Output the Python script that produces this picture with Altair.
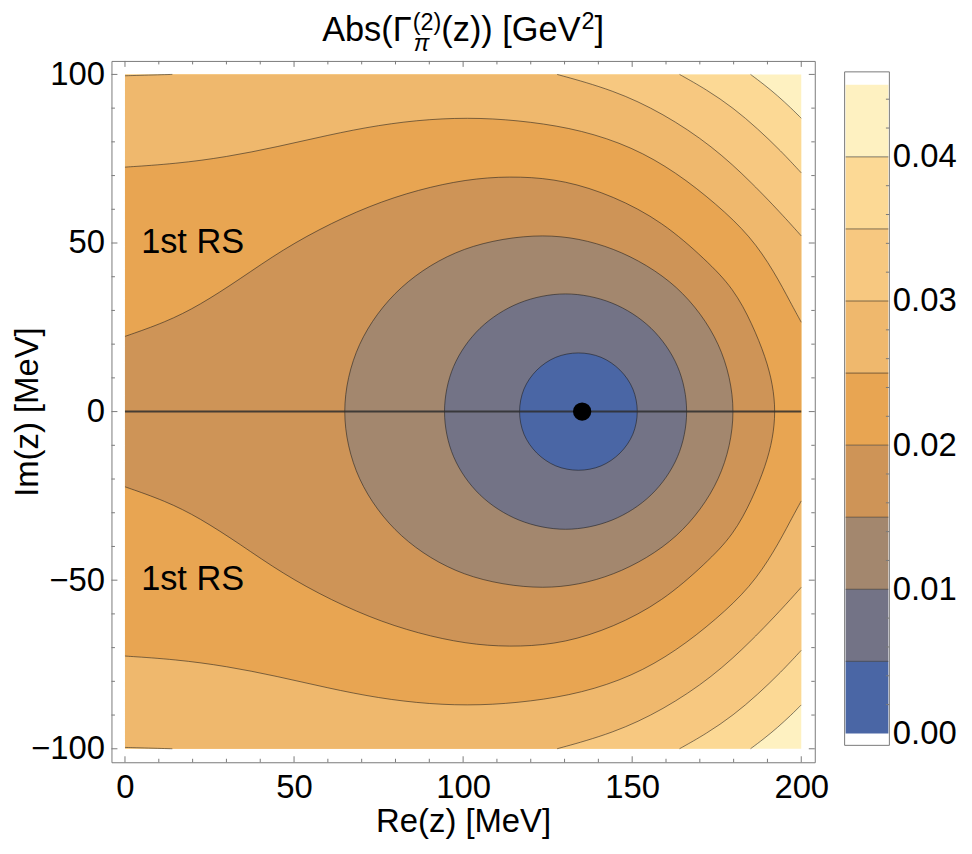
import altair as alt
import pandas as pd

# ---------------- data ----------------
RE_RANGE = [0, 200]      # MeV, extent of the computed region
IM_RANGE = [-100, 100]   # MeV
LEVELS = [0.000, 0.005, 0.010, 0.015, 0.020, 0.025, 0.030, 0.035, 0.040, 0.045]
BAND_COLORS = ["#4A66A5", "#737386", "#A3876E", "#CE9457", "#E8A552",
               "#EFB86D", "#F7C880", "#FCD995", "#FEF1C1"]

# contour curves, upper half (Im >= 0); the picture is mirror symmetric in Im
C005 = [(116.7, 0), (118.0, 6.7), (121.8, 12.3), (127.4, 16.1), (134.1, 17.4),
        (140.8, 16.1), (146.4, 12.3), (150.2, 6.7), (151.5, 0)]
C010 = [(94.5, 0), (97.2, 13.4), (105.0, 24.7), (116.6, 32.2), (130.3, 34.9),
        (144.0, 32.2), (155.6, 24.7), (163.4, 13.4), (166.1, 0)]
C015 = [(65.0, 0), (69.4, 19.9), (81.8, 36.8), (100.4, 48.1), (123.5, 52.1),
        (144.4, 48.1), (163.0, 36.8), (175.4, 19.9), (179.8, 0)]
C020 = [(0, 22.3), (12, 26.5), (22, 31.5), (34, 39.3), (46.5, 48.0), (61, 56.0),
        (76, 62.5), (90.5, 66.8), (104, 69.3), (117, 69.8), (130, 68.6),
        (144.4, 64.0), (159, 56.3), (171.8, 45.0), (180.0, 36.5), (185.5, 26.0),
        (189.5, 16.0), (191.6, 8.0), (192.4, 0)]
C025 = [(0, 72.5), (15, 73.5), (30, 75.5), (45, 78.5), (60, 82.0), (75, 85.0),
        (90, 86.8), (105, 87.2), (120, 86.0), (135, 83.5), (150, 78.5),
        (163, 71.0), (175, 61.5), (185, 52.0), (192, 41.5), (197, 32.0), (200, 26.5)]
C030 = [(127.8, 100), (144.4, 95.4), (159.1, 88.5), (173.8, 78.7), (185.5, 67.8),
        (195.3, 57.4), (200, 52.1)]
C030_CORNER = [(0, 99.6), (14, 100)]
C035 = [(164, 100), (172, 95.5), (180, 90.0), (187, 84.0), (194, 77.3), (200, 70.8)]
C040 = [(185, 100), (189, 97.0), (193, 93.7), (197, 90.0), (200, 87.0)]

POLE_RE = [135.2]
POLE_IM = [0.0]
RS_RE = [20, 20]
RS_IM = [50, -50]
RS_TEXT = ["1st RS", "1st RS"]

X_MAJOR = [0, 50, 100, 150, 200]
X_MINOR = [10, 20, 30, 40, 60, 70, 80, 90, 110, 120, 130, 140, 160, 170, 180, 190]
Y_MAJOR = [-100, -50, 0, 50, 100]
Y_MINOR = [-90, -80, -70, -60, -40, -30, -20, -10, 10, 20, 30, 40, 60, 70, 80, 90]
CB_LABELS = [0.00, 0.01, 0.02, 0.03, 0.04]
CB_MINOR = [0.002, 0.004, 0.006, 0.008, 0.012, 0.014, 0.016, 0.018, 0.022, 0.024,
            0.026, 0.028, 0.032, 0.034, 0.036, 0.038, 0.042, 0.044]

# ---------------- layout / style ----------------
W, H = 707, 705
XD = [-4, 204]
YD = [-104, 104]
FONT = "Liberation Sans"
F = 33
FT = 34.5     # title size
FS = 23.5     # sub/superscript size
FRAME = "#7a7a7a"
LINE = "#1a1a1a"

xs = alt.Scale(domain=XD, nice=False, zero=False)
ys = alt.Scale(domain=YD, nice=False, zero=False)
xax = alt.Axis(values=X_MAJOR, ticks=False, domain=False, grid=False, labelFlush=False,
               labelFontSize=F, labelFont=FONT, labelColor="black", labelPadding=9,
               title="Re(z) [MeV]", titleFontSize=F, titleFont=FONT, titleColor="black",
               titleFontWeight="normal", titlePadding=2)
yax = alt.Axis(values=Y_MAJOR, ticks=False, domain=False, grid=False, labelFlush=False,
               labelFontSize=F, labelFont=FONT, labelColor="black", labelPadding=7,
               title="Im(z) [MeV]", titleFontSize=F, titleFont=FONT, titleColor="black",
               titleFontWeight="normal", titlePadding=-14)


def X(f):
    return alt.X(f"{f}:Q", scale=xs, axis=xax)


def Y(f):
    return alt.Y(f"{f}:Q", scale=ys, axis=yax)


def mirror(p):
    return (p[0], -p[1])


K = 3  # vertex multiplicity -> sharp corners with a B-spline path


def open_region(curve, upper_edge, ends_on_axis):
    pts = []

    def add(p, n=1):
        pts.extend([p] * n)
    if upper_edge:
        add(mirror(upper_edge[0]), K)
        for v in upper_edge:
            add(v, K)
    add(curve[0], K)
    for p in curve[1:-1]:
        add(p)
    if ends_on_axis:
        add(curve[-1])
    else:
        add(curve[-1], K)
        add(mirror(curve[-1]), K)
    for p in reversed(curve[1:-1]):
        add(mirror(p))
    add(mirror(curve[0]), K)
    for v in reversed(upper_edge[1:]):
        add(mirror(v), K)
    return pts


def closed_region(curve):
    return list(curve) + [mirror(p) for p in reversed(curve[1:-1])]


def path_df(pts):
    return pd.DataFrame({"x": [p[0] for p in pts], "y": [p[1] for p in pts],
                         "i": list(range(len(pts)))})


layers = []
# whole computed region, highest band
base = pd.DataFrame({"x": [RE_RANGE[0]], "x2": [RE_RANGE[1]],
                     "y": [IM_RANGE[0]], "y2": [IM_RANGE[1]]})
layers.append(alt.Chart(base).mark_rect(color=BAND_COLORS[8]).encode(
    x=X("x"), x2=alt.X2("x2:Q"), y=Y("y"), y2=alt.Y2("y2:Q")))

open_specs = [(C040, [(0, 100)], False, BAND_COLORS[7]),
              (C035, [(0, 100)], False, BAND_COLORS[6]),
              (C030, C030_CORNER, False, BAND_COLORS[5]),
              (C025, [], False, BAND_COLORS[4]),
              (C020, [], True, BAND_COLORS[3])]
for curve, edge, on_axis, col in open_specs:
    df = path_df(open_region(curve, edge, on_axis))
    layers.append(alt.Chart(df).mark_line(fill=col, strokeWidth=0, interpolate="basis").encode(
        x=X("x"), y=Y("y"), order=alt.Order("i:Q")))

# contour lines of the open curves (same B-spline as the fills)
rows = []


def add_path(cid, pts):
    for k, p in enumerate(pts):
        rows.append({"x": p[0], "y": p[1], "i": k, "cid": cid})


def tripled_ends(c):
    return [c[0]] * K + list(c[1:-1]) + [c[-1]] * K


for name, c in [("c040", C040), ("c035", C035), ("c030", C030), ("c030c", C030_CORNER), ("c025", C025)]:
    add_path(name + "u", tripled_ends(c))
    add_path(name + "l", tripled_ends([mirror(p) for p in c]))
add_path("c020", tripled_ends(list(C020) + [mirror(p) for p in reversed(C020[:-1])]))
lines_df = pd.DataFrame(rows)

closed_specs = [(C015, BAND_COLORS[2]), (C010, BAND_COLORS[1]), (C005, BAND_COLORS[0])]
for curve, col in closed_specs:
    df = path_df(closed_region(curve))
    layers.append(alt.Chart(df).mark_line(
        fill=col, stroke=LINE, strokeOpacity=0.55, strokeWidth=1,
        interpolate="cardinal-closed").encode(x=X("x"), y=Y("y"), order=alt.Order("i:Q")))

layers.append(alt.Chart(lines_df).mark_line(
    color=LINE, strokeOpacity=0.55, strokeWidth=1, interpolate="basis").encode(
    x=X("x"), y=Y("y"), detail="cid:N", order=alt.Order("i:Q")))

# real axis line
zl = pd.DataFrame({"x": [RE_RANGE[0]], "x2": [RE_RANGE[1]], "y": [0.0]})
layers.append(alt.Chart(zl).mark_rule(color="#2e2e2e", strokeWidth=2, opacity=0.85).encode(
    x=X("x"), x2=alt.X2("x2:Q"), y=Y("y")))

# pole
pole = pd.DataFrame({"x": POLE_RE, "y": POLE_IM})
layers.append(alt.Chart(pole).mark_circle(size=340, color="black", opacity=1).encode(
    x=X("x"), y=Y("y")))

# labels
rs = pd.DataFrame({"x": RS_RE, "y": RS_IM, "t": RS_TEXT})
layers.append(alt.Chart(rs).mark_text(font=FONT, fontSize=34.5, color="black",
                                      align="center", baseline="middle").encode(
    x=X("x"), y=Y("y"), text="t:N"))


# frame ticks (pointing inward)
def xticks(vals, ln):
    d = pd.DataFrame({"t": vals})
    b = alt.Chart(d).mark_rule(color=FRAME, strokeWidth=1).encode(
        x=X("t"), y=alt.value(H), y2=alt.value(H - ln))
    t = alt.Chart(d).mark_rule(color=FRAME, strokeWidth=1).encode(
        x=X("t"), y=alt.value(0), y2=alt.value(ln))
    return [b, t]


def yticks(vals, ln):
    d = pd.DataFrame({"t": vals})
    l = alt.Chart(d).mark_rule(color=FRAME, strokeWidth=1).encode(
        y=Y("t"), x=alt.value(0), x2=alt.value(ln))
    r = alt.Chart(d).mark_rule(color=FRAME, strokeWidth=1).encode(
        y=Y("t"), x=alt.value(W), x2=alt.value(W - ln))
    return [l, r]


layers += xticks(X_MAJOR, 6) + xticks(X_MINOR, 3.5) + yticks(Y_MAJOR, 6) + yticks(Y_MINOR, 3.5)

# title made of pieces (sub/superscripts)
EM = {"A": .667, "b": .556, "s": .5, "(": .333, ")": .333, "Γ": .556, "z": .5, " ": .278,
      "[": .278, "]": .278, "G": .778, "e": .556, "V": .667, "2": .556, "π": .55}


def tw(s, size):
    return sum(EM.get(ch, .55) for ch in s) * size


w1 = tw("Abs(Γ", FT); w2 = tw("(2)", FS) + 1; w3 = tw("(z)) [GeV", FT); w4 = tw("2", FS) + 1; w5 = tw("]", FT)
total = w1 + w2 + w3 + w4 + w5
x0 = W / 2 - total / 2
pieces = [("Abs(Γ", x0, -20, FT, "normal"),
          ("(2)", x0 + w1 + 1, -31, FS, "normal"),
          ("π", x0 + w1 + 2, -10, FS, "italic"),
          ("(z)) [GeV", x0 + w1 + w2, -20, FT, "normal"),
          ("2", x0 + w1 + w2 + w3 + 1, -32, FS, "normal"),
          ("]", x0 + w1 + w2 + w3 + w4, -20, FT, "normal")]
dummy = pd.DataFrame({"a": [0]})
for txt, px, py, size, style in pieces:
    layers.append(alt.Chart(dummy).mark_text(text=txt, font=FONT, fontSize=size, fontStyle=style,
                                             color="black", align="left", baseline="alphabetic").encode(
        x=alt.value(px), y=alt.value(py)))

main = alt.layer(*layers)

# ---------------- colour bar ----------------
cs = alt.Scale(domain=[-0.002, 0.046656], nice=False, zero=False)
cax = alt.Axis(orient="right", offset=75, values=CB_LABELS, format=".2f", ticks=False,
               domain=False, grid=False, labelFontSize=F, labelFont=FONT, labelColor="black",
               labelPadding=3, labelFlush=False, title=None)
CBX0, CBX1 = 737, 782
bands = pd.DataFrame({"lo": LEVELS[:-1], "hi": LEVELS[1:], "c": BAND_COLORS})
cb_rect = alt.Chart(bands).mark_rect().encode(
    x=alt.value(CBX0 + 1), x2=alt.value(CBX1 - 1),
    y=alt.Y("lo:Q", scale=cs, axis=cax), y2=alt.Y2("hi:Q"),
    color=alt.Color("c:N", scale=None))
cb_lines = alt.Chart(pd.DataFrame({"v": LEVELS[1:-1]})).mark_rule(
    color=LINE, strokeOpacity=0.55, strokeWidth=1).encode(
    x=alt.value(CBX0 + 1), x2=alt.value(CBX1 - 1), y=alt.Y("v:Q", scale=cs, axis=cax))
cb_minor = alt.Chart(pd.DataFrame({"v": CB_MINOR})).mark_rule(color=FRAME, strokeWidth=1).encode(
    x=alt.value(CBX1), x2=alt.value(CBX1 - 3.5), y=alt.Y("v:Q", scale=cs, axis=cax))
cb_frame = alt.Chart(dummy).mark_rect(fill="transparent", stroke=FRAME, strokeWidth=1).encode(
    x=alt.value(CBX0), x2=alt.value(CBX1), y=alt.value(11), y2=alt.value(688))
cbar = alt.layer(cb_rect, cb_lines, cb_minor, cb_frame)

chart = alt.layer(main, cbar).resolve_scale(y="independent").properties(
    width=W, height=H,
    autosize=alt.AutoSizeParams(type="none"),
    padding={"left": 104, "top": 51, "right": 150, "bottom": 86},
).configure_view(stroke=FRAME, strokeWidth=1)

chart.save("out.html", embed_options={"renderer": "svg", "actions": False})
